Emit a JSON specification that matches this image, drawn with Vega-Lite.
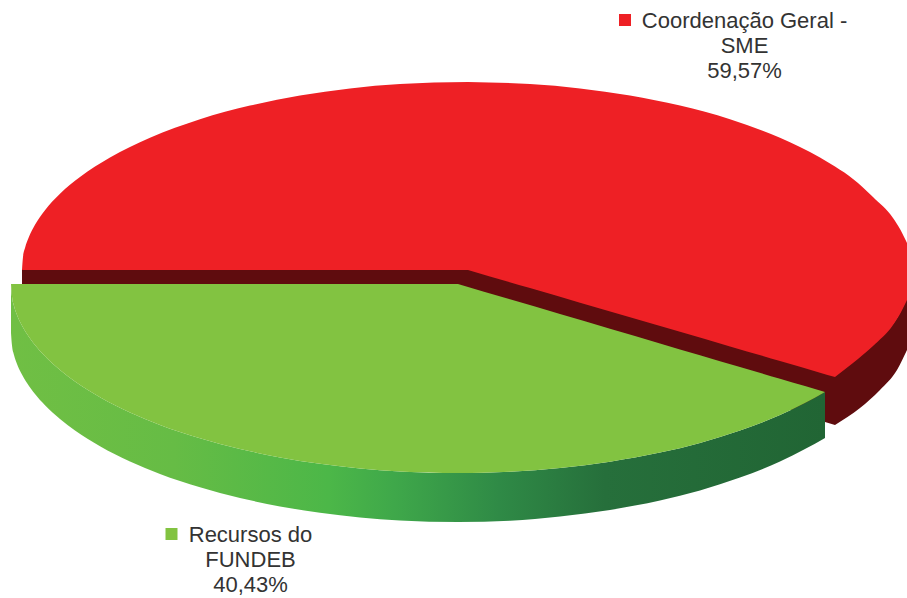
{
"$schema":"https://vega.github.io/schema/vega-lite/v6.json",
"width":907,"height":598,"padding":0,
"autosize":{"type":"fit","contains":"padding"},
"background":"white",
"view":{"stroke":null},
"encoding":{
"x":{"field":"x","type":"quantitative","scale":{"domain":[0,907],"nice":false,"zero":false},"axis":null},
"y":{"field":"y","type":"quantitative","scale":{"domain":[598,0],"nice":false,"zero":false},"axis":null}
},
"layer":[
{"data":{"values":[
{"x":22,"y":269,"y2":290},{"x":468,"y":269,"y2":296},{"x":825,"y":373,"y2":422},{"x":835,"y":375,"y2":425}
]},
"mark":{"type":"area","color":"#5F0C0E"},
"encoding":{"y2":{"field":"y2"}}},
{"data":{"values":[
{"x":835,"y":375,"y2":425},{"x":860,"y":356,"y2":408},{"x":880,"y":338,"y2":390},{"x":897,"y":318,"y2":370},{"x":907,"y":298,"y2":350}
]},
"mark":{"type":"area","color":"#5F0C0E","interpolate":"monotone"},
"encoding":{"y2":{"field":"y2"}}},
{"data":{"values":[
{"x":22,"y":270,"y2":270},{"x":23,"y":257,"y2":270},{"x":25,"y":248,"y2":270},{"x":29,"y":236.7,"y2":270},{"x":35,"y":224.8,"y2":270},{"x":45,"y":210.2,"y2":270},{"x":60,"y":193.8,"y2":270},{"x":80,"y":177,"y2":270},{"x":110,"y":157.5,"y2":270},{"x":150,"y":137.8,"y2":270},{"x":200,"y":119.3,"y2":270},{"x":250,"y":105.6,"y2":270},{"x":300,"y":95.5,"y2":270},{"x":350,"y":88.4,"y2":270},{"x":400,"y":84,"y2":270},{"x":468,"y":82,"y2":270}
]},
"mark":{"type":"area","color":"#EE2025","interpolate":"monotone"},
"encoding":{"y2":{"field":"y2"}}},
{"data":{"values":[
{"x":468,"y":82,"y2":270},{"x":530,"y":84,"y2":288.1},{"x":580,"y":88.4,"y2":302.7},{"x":630,"y":95.5,"y2":317.2},{"x":680,"y":105.6,"y2":331.8},{"x":730,"y":119.3,"y2":346.4},{"x":780,"y":137.8,"y2":361},{"x":820,"y":157.5,"y2":372.7},{"x":835,"y":166.6,"y2":377}
]},
"mark":{"type":"area","color":"#EE2025","interpolate":"monotone"},
"encoding":{"y2":{"field":"y2"}}},
{"data":{"values":[
{"x":835,"y":166.6,"y2":377},{"x":853,"y":179,"y2":363},{"x":873,"y":197,"y2":346},{"x":893,"y":218,"y2":325},{"x":900,"y":229,"y2":314},{"x":907,"y":243,"y2":300}
]},
"mark":{"type":"area","color":"#EE2025","interpolate":"monotone"},
"encoding":{"y2":{"field":"y2"}}},
{"data":{"values":[
{"x":11,"y":284,"y2":333},{"x":12,"y":296.6,"y2":345.6},{"x":14,"y":305.9,"y2":354.9},{"x":17,"y":314.9,"y2":363.9},{"x":21,"y":323.8,"y2":372.8},{"x":27,"y":334.1,"y2":383.1},{"x":35,"y":345.1,"y2":394.1},{"x":45,"y":356.3,"y2":405.3},{"x":60,"y":370,"y2":419},{"x":75,"y":381.5,"y2":430.5},{"x":100,"y":397.2,"y2":446.2},{"x":130,"y":412.4,"y2":461.4},{"x":160,"y":424.9,"y2":473.9},{"x":200,"y":438.3,"y2":487.3},{"x":240,"y":449,"y2":498},{"x":280,"y":457.4,"y2":506.4},{"x":320,"y":463.8,"y2":512.8},{"x":360,"y":468.4,"y2":517.4},{"x":400,"y":471.4,"y2":520.4},{"x":458,"y":473,"y2":522},{"x":510,"y":471.7,"y2":520.7},{"x":560,"y":468,"y2":516.5},{"x":610,"y":461.7,"y2":510},{"x":660,"y":452.6,"y2":500.6},{"x":700,"y":442.9,"y2":490.5},{"x":740,"y":430.6,"y2":477.6},{"x":780,"y":415.1,"y2":461.6},{"x":805,"y":403.1,"y2":449.1},{"x":825,"y":391.9,"y2":438}
]},
"mark":{"type":"area","interpolate":"monotone","color":{"gradient":"linear","x1":0,"y1":0,"x2":1,"y2":0,"stops":[{"offset":0,"color":"#70BF44"},{"offset":0.2,"color":"#66BC45"},{"offset":0.39,"color":"#4CB748"},{"offset":0.47,"color":"#3FA84A"},{"offset":0.6,"color":"#2F8A46"},{"offset":0.73,"color":"#266F3B"},{"offset":1,"color":"#216534"}]}},
"encoding":{"y2":{"field":"y2"}}},
{"data":{"values":[
{"x":11,"y":284,"y2":284},{"x":12,"y":284,"y2":296.6},{"x":14,"y":284,"y2":305.9},{"x":17,"y":284,"y2":314.9},{"x":21,"y":284,"y2":323.8},{"x":27,"y":284,"y2":334.1},{"x":35,"y":284,"y2":345.1},{"x":45,"y":284,"y2":356.3},{"x":60,"y":284,"y2":370},{"x":75,"y":284,"y2":381.5},{"x":100,"y":284,"y2":397.2},{"x":130,"y":284,"y2":412.4},{"x":160,"y":284,"y2":424.9},{"x":200,"y":284,"y2":438.3},{"x":240,"y":284,"y2":449},{"x":280,"y":284,"y2":457.4},{"x":320,"y":284,"y2":463.8},{"x":360,"y":284,"y2":468.4},{"x":400,"y":284,"y2":471.4},{"x":458,"y":284,"y2":473}
]},
"mark":{"type":"area","color":"#82C341","interpolate":"monotone"},
"encoding":{"y2":{"field":"y2"}}},
{"data":{"values":[
{"x":458,"y":284,"y2":473},{"x":510,"y":299.3,"y2":471.7},{"x":560,"y":314,"y2":468},{"x":610,"y":328.7,"y2":461.7},{"x":660,"y":343.4,"y2":452.6},{"x":700,"y":355.2,"y2":442.9},{"x":740,"y":367,"y2":430.6},{"x":780,"y":378.8,"y2":415.1},{"x":805,"y":386.1,"y2":403.1},{"x":825,"y":392,"y2":392}
]},
"mark":{"type":"area","color":"#82C341","interpolate":"monotone"},
"encoding":{"y2":{"field":"y2"}}},
{"data":{"values":[{"x":625,"y":20,"series":"Coordenação Geral - SME"},{"x":171.5,"y":534,"series":"Recursos do FUNDEB"}]},
"mark":{"type":"square","size":144,"opacity":1,"filled":true},
"encoding":{"color":{"field":"series","type":"nominal","legend":null,"scale":{"domain":["Coordenação Geral - SME","Recursos do FUNDEB"],"range":["#EE2025","#82C341"]}}}},
{"data":{"values":[
{"x":744.5,"y":21,"label":"Coordenação Geral -"},{"x":744.5,"y":46,"label":"SME"},{"x":744.5,"y":71,"label":"59,57%"},
{"x":250.5,"y":535,"label":"Recursos do"},{"x":250.5,"y":560,"label":"FUNDEB"},{"x":250.5,"y":585,"label":"40,43%"}
]},
"mark":{"type":"text","font":"Liberation Sans","fontSize":22,"color":"#333333","align":"center","baseline":"middle"},
"encoding":{"text":{"field":"label"}}}
]
}
